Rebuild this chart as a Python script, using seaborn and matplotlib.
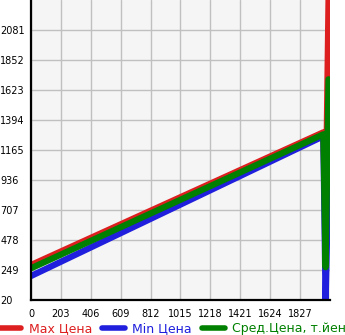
import matplotlib
matplotlib.use("Agg")
import matplotlib.pyplot as plt
from matplotlib.lines import Line2D
import seaborn as sns
import pandas as pd

# data
x_vals = [0, 1985, 2000, 2020]
max_price = [287, 1300, 600, 2310]
min_price = [203, 1270, 10, 1000]
avg_price = [262, 1285, 270, 1705]
x_ticks = [0, 203, 406, 609, 812, 1015, 1218, 1421, 1624, 1827, 2030]
x_tick_labels = ["0", "203", "406", "609", "812", "1015", "1218", "1421", "1624", "1827", ""]
y_ticks = [20, 249, 478, 707, 936, 1165, 1394, 1623, 1852, 2081]
series_names = ["Max Цена", "Min Цена", "Сред.Цена, т.йен"]
series_colors = ["#dd1f1f", "#1f1fdd", "#008000"]

df = pd.concat([
    pd.DataFrame({"x": x_vals, "y": max_price, "s": series_names[0]}),
    pd.DataFrame({"x": x_vals, "y": min_price, "s": series_names[1]}),
    pd.DataFrame({"x": x_vals, "y": avg_price, "s": series_names[2]}),
])

sns.set_style("white")
plt.rcParams["font.family"] = ["DejaVu Sans"]

fig = plt.figure(figsize=(3.45, 3.35), dpi=100)
ax = fig.add_axes([31 / 345, 35 / 335, 299 / 345, 300 / 335])
ax.set_facecolor("#f5f5f5")

sns.lineplot(data=df, x="x", y="y", hue="s", palette=dict(zip(series_names, series_colors)),
             sort=False, estimator=None, linewidth=4.5, legend=False, ax=ax,
             solid_capstyle="round", solid_joinstyle="round")

ax.set_xlim(0, 2030)
ax.set_ylim(20, 2310)
ax.set_xticks(x_ticks)
ax.set_xticklabels(x_tick_labels)
ax.set_yticks(y_ticks)
ax.set_yticklabels([str(v) for v in y_ticks])
ax.grid(True, color="#c0c0c0", linewidth=1)
ax.set_axisbelow(True)
ax.set_xlabel("")
ax.set_ylabel("")
for side in ["top", "right"]:
    ax.spines[side].set_visible(False)
for side in ["left", "bottom"]:
    ax.spines[side].set_color("black")
    ax.spines[side].set_linewidth(1.6)
ax.tick_params(axis="both", length=3, width=1, color="black", labelsize=7, labelcolor="black")
ax.tick_params(axis="y", pad=19)
for lab in ax.get_yticklabels():
    lab.set_horizontalalignment("left")

handles = [Line2D([0], [0], color=c, lw=4, solid_capstyle="round") for c in series_colors]
leg = fig.legend(handles, series_names, loc="lower center", bbox_to_anchor=(0.5, -0.02), ncol=3,
                 frameon=False, fontsize=9, handlelength=1.8, handletextpad=0.6,
                 columnspacing=0.8, borderaxespad=0.1)
for t, c in zip(leg.get_texts(), series_colors):
    t.set_color(c)

fig.savefig("out.png", dpi=100)
